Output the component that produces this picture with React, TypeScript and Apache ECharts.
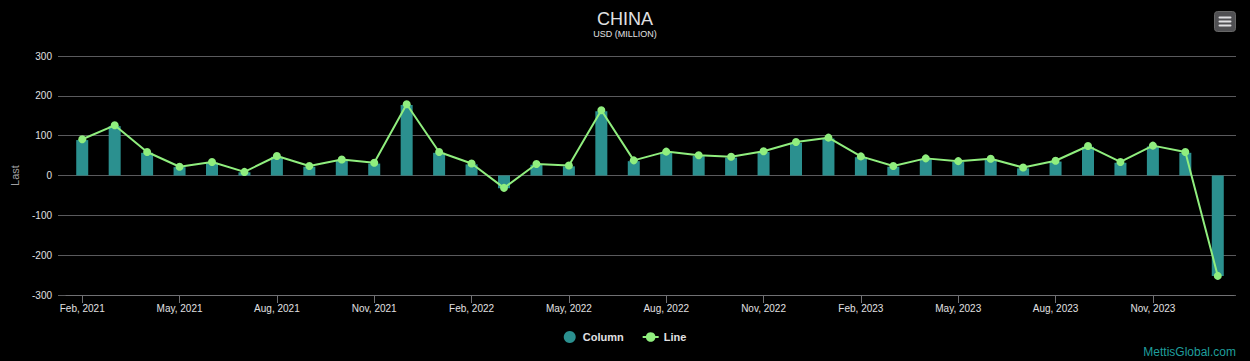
import React, { useEffect, useRef } from "react";
import * as echarts from "echarts";

const categories: string[] = [
  "Feb, 2021", "Mar, 2021", "Apr, 2021", "May, 2021", "Jun, 2021", "Jul, 2021",
  "Aug, 2021", "Sep, 2021", "Oct, 2021", "Nov, 2021", "Dec, 2021", "Jan, 2022",
  "Feb, 2022", "Mar, 2022", "Apr, 2022", "May, 2022", "Jun, 2022", "Jul, 2022",
  "Aug, 2022", "Sep, 2022", "Oct, 2022", "Nov, 2022", "Dec, 2022", "Jan, 2023",
  "Feb, 2023", "Mar, 2023", "Apr, 2023", "May, 2023", "Jun, 2023", "Jul, 2023",
  "Aug, 2023", "Sep, 2023", "Oct, 2023", "Nov, 2023", "Dec, 2023", "Jan, 2024",
];

const columnValues: number[] = [
  89, 124, 57, 21, 32, 8, 47, 22, 39, 30, 177, 57,
  28, -32, 27, 23, 161, 36, 58, 49, 45, 59, 82, 93,
  46, 22, 41, 34, 40, 18, 35, 72, 32, 73, 57, -252,
];

const lineValues: number[] = [
  91, 126, 59, 22, 34, 9, 49, 24, 40, 32, 179, 59,
  30, -31, 29, 25, 164, 38, 60, 51, 47, 61, 84, 95,
  48, 24, 43, 36, 42, 20, 37, 74, 34, 75, 59, -252,
];

const yTicks = { min: -300, max: 300, interval: 100 };

const FONT = "'Liberation Sans', Arial, Helvetica, sans-serif";

export default function App() {
  const ref = useRef<HTMLDivElement>(null);

  useEffect(() => {
    if (!ref.current) return;
    const chart = echarts.init(ref.current, null, { renderer: "svg" });
    const everyThird = (idx: number) => idx % 3 === 0;
    chart.setOption({
      animation: false,
      backgroundColor: "#000000",
      textStyle: { fontFamily: FONT },
      title: {
        text: "CHINA",
        subtext: "USD (MILLION)",
        left: "center",
        top: 5,
        itemGap: 1,
        textStyle: { color: "#E0E0E3", fontSize: 18, fontWeight: "normal", fontFamily: FONT },
        subtextStyle: { color: "#E0E0E3", fontSize: 9, fontFamily: FONT },
      },
      legend: {
        bottom: 13,
        left: "center",
        itemGap: 18,
        itemWidth: 16,
        itemHeight: 12,
        textStyle: { color: "#E0E0E3", fontSize: 11, fontWeight: "bold", fontFamily: FONT },
        data: [{ name: "Column", icon: "circle" }, { name: "Line" }],
      },
      grid: [
        { left: 58, right: 14, top: 56, bottom: 66, containLabel: false },
        { left: 66, right: 16, top: 56, bottom: 66, containLabel: false },
      ],
      xAxis: [
        {
          type: "category",
          gridIndex: 0,
          data: categories,
          show: false,
        },
        {
          type: "category",
          gridIndex: 1,
          data: categories,
          boundaryGap: true,
          axisLine: { onZero: false, lineStyle: { color: "#707073", width: 1 } },
          axisTick: { show: true, interval: everyThird, alignWithLabel: true, length: 8, lineStyle: { color: "#707073" } },
          axisLabel: { interval: everyThird, color: "#E0E0E3", fontSize: 10, margin: 8, fontFamily: FONT },
          splitLine: { show: false },
        },
      ],
      yAxis: [
        {
          type: "value",
          gridIndex: 0,
          min: yTicks.min,
          max: yTicks.max,
          interval: yTicks.interval,
          name: "Last",
          nameLocation: "middle",
          nameGap: 38,
          nameTextStyle: { color: "#A0A0A3", fontSize: 11, fontFamily: FONT },
          axisLine: { show: false },
          axisTick: { show: false },
          axisLabel: { color: "#E0E0E3", fontSize: 10, margin: 6, fontFamily: FONT },
          splitLine: { lineStyle: { color: "#5a5a5d", width: 1 } },
        },
        {
          type: "value",
          gridIndex: 1,
          min: yTicks.min,
          max: yTicks.max,
          interval: yTicks.interval,
          show: false,
          splitLine: { show: false },
        },
      ],
      series: [
        {
          name: "Column",
          type: "bar",
          xAxisIndex: 1,
          yAxisIndex: 1,
          data: columnValues,
          barWidth: 12,
          itemStyle: { color: "#2b908f" },
        },
        {
          name: "Line",
          type: "line",
          xAxisIndex: 1,
          yAxisIndex: 1,
          data: lineValues,
          symbol: "circle",
          symbolSize: 8,
          lineStyle: { color: "#90ee7e", width: 2 },
          itemStyle: { color: "#90ee7e" },
          z: 3,
        },
      ],
      graphic: [
        {
          type: "group",
          right: 14,
          top: 11,
          children: [
            { type: "rect", shape: { x: 0, y: 0, width: 21, height: 20, r: 3 }, style: { fill: "#505053", stroke: "#666", lineWidth: 1 } },
            { type: "rect", shape: { x: 4, y: 5, width: 13, height: 2, r: 1 }, style: { fill: "#E0E0E3" } },
            { type: "rect", shape: { x: 4, y: 9, width: 13, height: 2, r: 1 }, style: { fill: "#E0E0E3" } },
            { type: "rect", shape: { x: 4, y: 13, width: 13, height: 2, r: 1 }, style: { fill: "#E0E0E3" } },
          ],
        },
        {
          type: "text",
          right: 14,
          bottom: 3,
          style: { text: "MettisGlobal.com", fill: "#1f9e9c", fontSize: 12, fontFamily: FONT },
        },
      ],
    });
    return () => chart.dispose();
  }, []);

  return (
    <div
      ref={ref}
      style={{ position: "fixed", left: 0, top: 0, width: 1250, height: 361, background: "#000" }}
    />
  );
}
